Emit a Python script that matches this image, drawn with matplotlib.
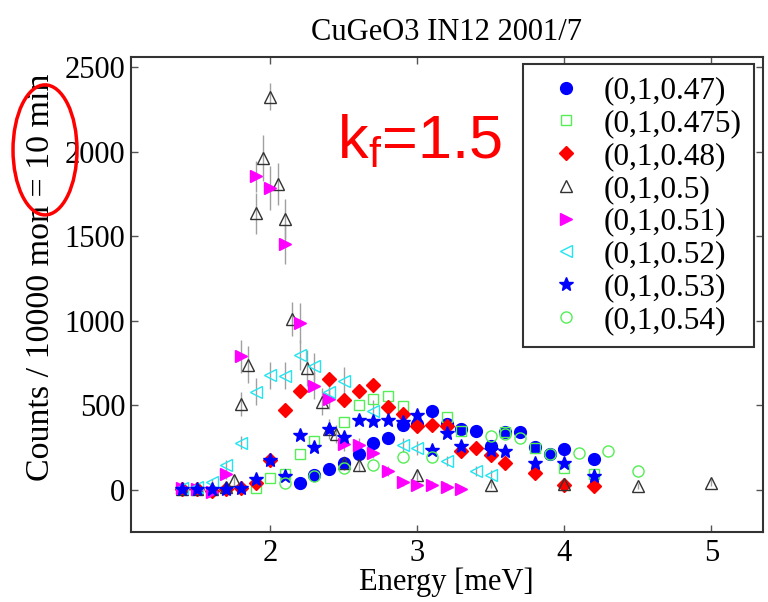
import matplotlib.pyplot as plt
from matplotlib.patches import Ellipse

plt.rcParams['font.family'] = 'Liberation Serif'
plt.rcParams['mathtext.fontset'] = 'custom'
plt.rcParams['mathtext.rm'] = 'Liberation Sans'

# (0,1,0.47)
e_047 = [2.2, 2.3, 2.4, 2.5, 2.6, 2.7, 2.8, 2.9, 3.0, 3.1, 3.2, 3.3, 3.4,
         3.5, 3.6, 3.7, 3.8, 3.9, 4.0, 4.2]
c_047 = [40, 87, 122, 158, 214, 278, 307, 385, 392, 470, 392, 358, 350,
         262, 340, 340, 256, 212, 240, 183]

# (0,1,0.475)
e_0475 = [1.9, 2.0, 2.1, 2.2, 2.3, 2.5, 2.6, 2.7, 2.8, 2.9, 3.2, 3.3, 3.6,
          3.8, 4.0, 4.2]
c_0475 = [10, 72, 92, 215, 290, 405, 500, 540, 556, 495, 430, 350, 340,
          250, 128, 95]

# (0,1,0.48)
e_048 = [1.4, 1.5, 1.6, 1.7, 1.8, 1.9, 2.0, 2.1, 2.2, 2.4, 2.5, 2.6, 2.7,
         2.8, 2.9, 3.0, 3.1, 3.2, 3.3, 3.4, 3.5, 3.6, 3.8, 4.0, 4.2]
c_048 = [5, 8, -5, 5, 10, 40, 176, 472, 583, 659, 534, 587, 620,
         493, 452, 376, 385, 376, 233, 249, 208, 158, 100, 30, 22]

# (0,1,0.5)
e_050 = [1.4, 1.5, 1.6, 1.7, 1.75, 1.8, 1.85, 1.9, 1.95, 2.0, 2.05, 2.1,
         2.15, 2.25, 2.35, 2.4, 2.45, 2.5, 2.6, 3.0, 3.5, 4.0, 4.5, 5.0]
c_050 = [5, 5, 5, 15, 60, 510, 740, 1637, 1963, 2327, 1811, 1602,
         1010, 722, 523, 360, 330, 158, 150, 89, 30, 35, 24, 43]
err_050 = [15, 15, 15, 20, 30, 70, 110, 120, 135, 80, 125, 118,
           100, 105, 80, 60, 55, 40, 40, 30, 20, 20, 20, 20]

# (0,1,0.51)
e_051 = [1.4, 1.5, 1.6, 1.7, 1.8, 1.9, 2.0, 2.1, 2.2, 2.3, 2.4, 2.5, 2.6,
         2.7, 2.8, 2.9, 3.0, 3.1, 3.2, 3.3]
c_051 = [10, 5, -10, 95, 790, 1855, 1785, 1456, 988, 618, 540, 270, 266,
         218, 110, 45, 30, 30, 20, 5]
err_051 = [15, 15, 15, 30, 95, 90, 130, 120, 120, 80, 60, 40, 40,
           30, 30, 20, 20, 20, 20, 20]

# (0,1,0.52)
e_052 = [1.4, 1.5, 1.6, 1.7, 1.8, 1.9, 2.0, 2.1, 2.2, 2.3, 2.4, 2.5, 2.7,
         2.9, 3.0, 3.2, 3.4, 3.5]
c_052 = [10, 15, 45, 148, 280, 582, 680, 675, 798, 731, 578, 642, 470,
         266, 247, 170, 112, 90]
err_052 = [15, 15, 20, 30, 40, 80, 80, 80, 90, 80, 70, 85, 60,
           40, 40, 30, 30, 30]

# (0,1,0.53)
e_053 = [1.4, 1.5, 1.6, 1.7, 1.8, 1.9, 2.0, 2.1, 2.2, 2.3, 2.4, 2.5, 2.6,
         2.7, 2.8, 2.9, 3.0, 3.1, 3.2, 3.3, 3.5, 3.6, 3.8, 4.0, 4.2]
c_053 = [5, 5, 5, 5, 10, 62, 176, 80, 325, 256, 360, 312, 412,
         410, 414, 400, 444, 237, 339, 262, 237, 232, 160, 160, 80]

# (0,1,0.54)
e_054 = [2.1, 2.3, 2.5, 2.7, 2.9, 3.1, 3.5, 3.6, 3.7, 3.9, 4.1, 4.3, 4.5]
c_054 = [40, 80, 128, 148, 197, 197, 318, 332, 306, 212, 217, 232, 112]

series = [
    (e_047, c_047, None, '(0,1,0.47)', 'o', 'blue', 'blue', 8.5),
    (e_0475, c_0475, None, '(0,1,0.475)', 's', 'none', '#55ee55', 7),
    (e_048, c_048, None, '(0,1,0.48)', 'D', 'red', 'red', 7),
    (e_050, c_050, err_050, '(0,1,0.5)', '^', 'none', '#333333', 8.5),
    (e_051, c_051, err_051, '(0,1,0.51)', '>', 'magenta', 'magenta', 8.5),
    (e_052, c_052, err_052, '(0,1,0.52)', '<', 'none', '#22e5f0', 8.5),
    (e_053, c_053, None, '(0,1,0.53)', '*', 'blue', 'blue', 10),
    (e_054, c_054, None, '(0,1,0.54)', 'o', 'none', '#55ee55', 8),
]

fig = plt.figure(figsize=(7.68, 6.02), dpi=100)
ax = fig.add_axes([0.1702, 0.1168, 0.8229, 0.7885])

for e, c, err, label, m, fc, ec, ms in series:
    if err is not None:
        ax.errorbar(e, c, yerr=err, fmt='none', ecolor='#a0a0a0',
                    elinewidth=1.0, capsize=0, zorder=1)
    ax.plot(e, c, ls='none', marker=m, markerfacecolor=fc,
            markeredgecolor=ec, markersize=ms, markeredgewidth=1.0,
            label=label, zorder=2)

ax.set_xlim(1.05, 5.35)
ax.set_ylim(-247, 2562)
ax.set_xticks([2, 3, 4, 5])
ax.set_yticks([0, 500, 1000, 1500, 2000, 2500])
ax.tick_params(direction='in', length=5, width=1, labelsize=22,
               top=True, right=True, color='#555555')
ax.tick_params(axis='x', pad=5)
ax.tick_params(axis='y', pad=4)
for sp in ax.spines.values():
    sp.set_linewidth(1.5)
    sp.set_color('#333333')

ax.set_title('CuGeO3 IN12 2001/7', fontsize=22, pad=12)
ax.set_xlabel('Energy [meV]', fontsize=22, labelpad=0)
ax.set_ylabel('Counts / 10000 mon = 10 min', fontsize=24.5)
ax.yaxis.set_label_coords(-0.118, 0.535)

leg = ax.legend(loc='upper left', bbox_to_anchor=(0.620, 0.985),
                borderaxespad=0, fontsize=22.5, numpoints=1, fancybox=False,
                handlelength=2.0, handletextpad=0.2, labelspacing=0.12,
                borderpad=0.4, framealpha=1)
leg.get_frame().set_edgecolor('#333333')
leg.get_frame().set_linewidth(1.5)

ax.text(0.326, 0.787, r'k$_{\mathrm{f}}$=1.5', transform=ax.transAxes,
        fontsize=44, color='red', family='Liberation Sans',
        ha='left', va='baseline')

fig.patches.append(Ellipse((0.0586, 0.751), 0.0833, 0.216,
                           transform=fig.transFigure, fill=False,
                           edgecolor='red', linewidth=2.5))

plt.savefig('out.png', dpi=100)
